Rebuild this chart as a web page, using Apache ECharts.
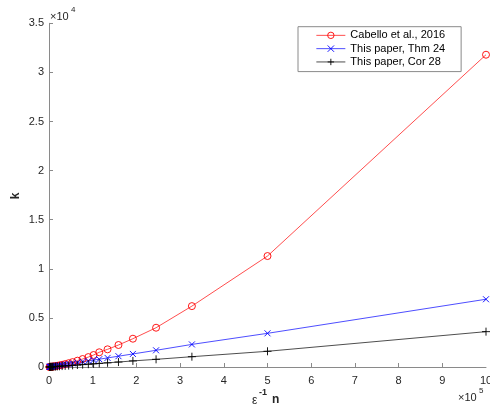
<!DOCTYPE html>
<html>
<head>
<meta charset="utf-8">
<script src="https://cdn.jsdelivr.net/npm/echarts@6/dist/echarts.min.js"></script>
<style>
html,body{margin:0;padding:0;background:#fff;}
#chart{width:490px;height:409px;}
</style>
</head>
<body>
<div id="chart"></div>
<script>
// x values: epsilon^-1 n
var xValues = [1000000, 500000, 327000, 245000, 192000, 159000, 134000, 115000, 102000,
  90000, 77000, 65000, 54000, 45000, 37000, 30000, 24000, 19000, 15000, 11000,
  8000, 6000, 4000, 3000, 2000, 1000];
var cabello = [31800, 11300, 6200, 4000, 2880, 2240, 1800, 1500, 1220,
  1010, 813, 644, 499, 389, 298, 225, 167, 123, 90, 60,
  40, 28, 17, 12, 7, 3];
var thm24 = [6900, 3430, 2300, 1700, 1330, 1100, 925, 795, 705,
  620, 530, 450, 372, 310, 255, 207, 166, 131, 104, 76,
  55, 41, 28, 21, 14, 7];
var cor28 = [3600, 1600, 1050, 780, 620, 505, 425, 365, 323,
  285, 243, 205, 170, 142, 117, 95, 76, 60, 47, 35,
  25, 19, 13, 10, 6, 3];
var seriesNames = ['Cabello et al., 2016', 'This paper, Thm 24', 'This paper, Cor 28'];
var xMaxLabel = '10';

function pairs(ys) { return xValues.map(function (x, i) { return [x, ys[i]]; }); }

var font = 'Liberation Sans, Arial, Helvetica, sans-serif';
var textColor = '#262626';
var axisColor = '#8a8a8a';

var chart = echarts.init(document.getElementById('chart'), null, {renderer: 'canvas'});
chart.setOption({
  animation: false,
  backgroundColor: '#fff',
  grid: {left: 49, right: 4, top: 23.3, bottom: 42, containLabel: false},
  xAxis: {
    type: 'value', min: 0, max: 1000000, interval: 100000,
    axisLine: {lineStyle: {color: axisColor, width: 1}},
    axisTick: {inside: true, length: 4, lineStyle: {color: axisColor}},
    axisLabel: {color: textColor, fontSize: 11, fontFamily: font, margin: 8, showMaxLabel: false,
      formatter: function (v) { return String(Math.round(v / 100000)); }},
    splitLine: {show: false}
  },
  yAxis: {
    type: 'value', min: 0, max: 35000, interval: 5000,
    axisLine: {show: true, lineStyle: {color: axisColor, width: 1}},
    axisTick: {show: true, inside: true, length: 4, lineStyle: {color: axisColor}},
    axisLabel: {color: textColor, fontSize: 11, fontFamily: font, margin: 5,
      formatter: function (v) { return String(v / 10000); }},
    splitLine: {show: false}
  },
  legend: {
    orient: 'vertical', left: 298, top: 26.7,
    backgroundColor: '#fff',
    borderColor: '#8a8a8a', borderWidth: 1, borderRadius: 0,
    padding: [2, 16, 3, 18],
    itemWidth: 29, itemHeight: 8, itemGap: 0,
    lineStyle: {width: 0.7},
    itemStyle: {borderWidth: 0.9},
    textStyle: {color: '#000', fontSize: 11, fontFamily: font, lineHeight: 13.3},
    data: seriesNames
  },
  series: [
    {
      name: seriesNames[0], type: 'line', data: pairs(cabello),
      symbol: 'circle', symbolSize: 7,
      itemStyle: {color: 'rgba(255,0,0,0)', borderColor: '#ff0000', borderWidth: 0.9},
      lineStyle: {color: '#ff0000', width: 0.7}
    },
    {
      name: seriesNames[1], type: 'line', data: pairs(thm24),
      symbol: 'path://M0,0L10,10M10,0L0,10', symbolSize: 6,
      itemStyle: {color: '#0000ff', borderColor: '#0000ff', borderWidth: 0.9},
      lineStyle: {color: '#0000ff', width: 0.7}
    },
    {
      name: seriesNames[2], type: 'line', data: pairs(cor28),
      symbol: 'path://M5,0L5,10M0,5L10,5', symbolSize: 8,
      itemStyle: {color: '#000000', borderColor: '#000000', borderWidth: 0.9},
      lineStyle: {color: '#000000', width: 0.7}
    }
  ],
  graphic: [
    {type: 'text', x: 486, y: 375, style: {text: xMaxLabel, fill: textColor, fontSize: 11, fontFamily: font, align: 'center', verticalAlign: 'top'}},
    {type: 'text', left: 50, top: 11, style: {text: '×10', fill: textColor, fontSize: 11, fontFamily: font}},
    {type: 'text', left: 71, top: 6, style: {text: '4', fill: textColor, fontSize: 8, fontFamily: font}},
    {type: 'text', left: 458, top: 392, style: {text: '×10', fill: textColor, fontSize: 11, fontFamily: font}},
    {type: 'text', left: 479, top: 387, style: {text: '5', fill: textColor, fontSize: 8, fontFamily: font}},
    {type: 'text', x: 16, y: 196, rotation: Math.PI / 2,
      style: {text: 'k', fill: textColor, fontSize: 12, fontWeight: 'bold', fontFamily: font, align: 'center', verticalAlign: 'middle'}},
    {type: 'text', left: 252, top: 395, style: {text: 'ε', fill: textColor, fontSize: 12, fontFamily: font}},
    {type: 'text', left: 259, top: 388, style: {text: '-1', fill: textColor, fontSize: 9, fontWeight: 'bold', fontFamily: font}},
    {type: 'text', left: 272, top: 394, style: {text: 'n', fill: textColor, fontSize: 12, fontWeight: 'bold', fontFamily: font}}
  ]
});
</script>
</body>
</html>
